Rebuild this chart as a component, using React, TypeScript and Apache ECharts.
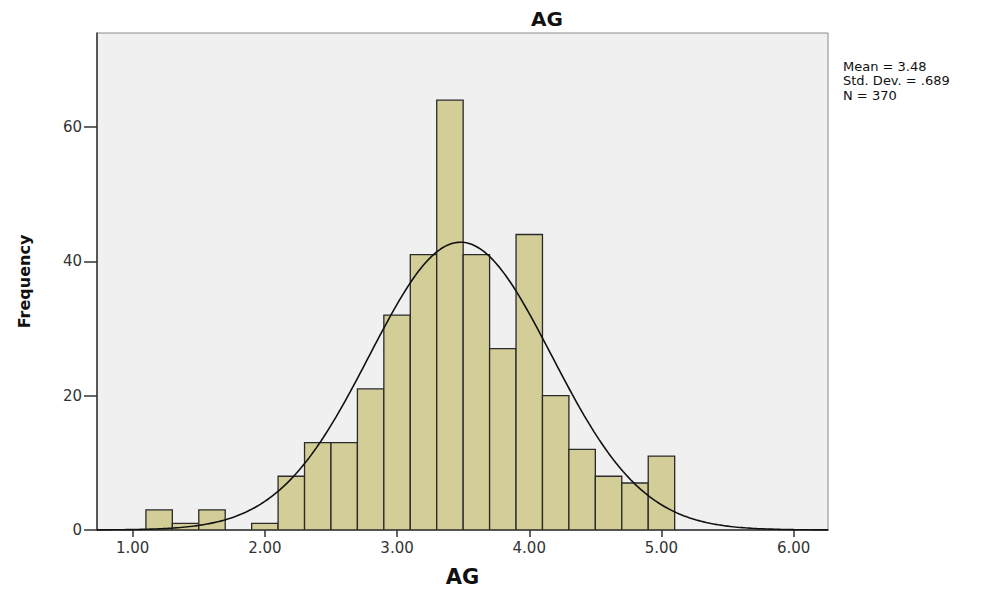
import React, { useEffect, useRef } from "react";
import * as echarts from "echarts";

const binCenters = [1.2, 1.4, 1.6, 1.8, 2.0, 2.2, 2.4, 2.6, 2.8, 3.0, 3.2, 3.4, 3.6, 3.8, 4.0, 4.2, 4.4, 4.6, 4.8, 5.0];
const counts = [3, 1, 3, 0, 1, 8, 13, 13, 21, 32, 41, 64, 41, 27, 44, 20, 12, 8, 7, 11];
const binWidth = 0.2;
const xTicks = [1, 2, 3, 4, 5, 6];
const yTicks = [0, 20, 40, 60];
const MEAN = 3.48;
const SD = 0.689;
const N = 370;
const statLines = ["Mean = 3.48", "Std. Dev. = .689", "N = 370"];

const X_MIN = 0.73;
const X_MAX = 6.26;

export default function App() {
  const ref = useRef<HTMLDivElement>(null);
  useEffect(() => {
    if (!ref.current) return;
    const chart = echarts.init(ref.current, null, { renderer: "svg" });
    const barData = binCenters.map((c, i) => [c - binWidth / 2, c + binWidth / 2, counts[i]]);
    // fitted normal curve from the reported statistics
    const curve: number[][] = [];
    const steps = 300;
    for (let i = 0; i <= steps; i++) {
      const x = X_MIN + ((X_MAX - X_MIN) * i) / steps;
      const z = (x - MEAN) / SD;
      const y = (N * binWidth) / (SD * Math.sqrt(2 * Math.PI)) * Math.exp(-0.5 * z * z);
      curve.push([x, y]);
    }
    const font = "'DejaVu Sans', 'Liberation Sans', Arial, sans-serif";
    chart.setOption({
      animation: false,
      backgroundColor: "#ffffff",
      grid: {
        left: 79,
        right: 150,
        top: 25,
        bottom: 51,
        show: true,
        backgroundColor: "#f0f0f0",
        borderColor: "#8a8a8a",
        borderWidth: 1,
      },
      xAxis: {
        type: "value",
        min: X_MIN,
        max: X_MAX,
        name: "AG",
        nameLocation: "middle",
        nameGap: 36,
        nameTextStyle: { fontFamily: font, fontWeight: "bold", fontSize: 21, color: "#111" },
        axisLine: { show: true, onZero: false, lineStyle: { color: "#333", width: 1.5 } },
        axisTick: { show: true, length: 7, customValues: xTicks, lineStyle: { color: "#333", width: 1.5 } },
        axisLabel: {
          customValues: xTicks,
          formatter: (v: number) => v.toFixed(2),
          fontFamily: font,
          fontSize: 15,
          color: "#333",
          margin: 10,
        },
        splitLine: { show: false },
      },
      yAxis: {
        type: "value",
        min: 0,
        max: 74,
        name: "Frequency",
        nameLocation: "middle",
        nameRotate: 90,
        nameGap: 65,
        nameTextStyle: {
          fontFamily: font,
          fontWeight: "bold",
          fontSize: 16,
          color: "#111",
        },
        axisLine: { show: true, lineStyle: { color: "#333", width: 1.5 } },
        axisTick: { show: true, length: 13, customValues: yTicks, lineStyle: { color: "#333", width: 1.5 } },
        axisLabel: {
          customValues: yTicks,
          fontFamily: font,
          fontSize: 15,
          color: "#333",
          margin: 15,
        },
        splitLine: { show: false },
      },
      graphic: [
        {
          type: "text",
          x: 539,
          y: 1,
          style: {
            text: "AG",
            fontFamily: font,
            fontWeight: "bold",
            fontSize: 20,
            fill: "#111",
            textAlign: "center",
            textVerticalAlign: "top",
          },
        },
        ...statLines.map((t, i) => ({
          type: "text",
          x: 835,
          y: 58 + i * 14.5,
          style: { text: t, fontFamily: font, fontSize: 13, fill: "#111", textAlign: "left", textVerticalAlign: "middle" },
        })),
      ],
      series: [
        {
          type: "custom",
          data: barData,
          clip: true,
          renderItem: (params: any, api: any) => {
            const x0 = api.value(0);
            const x1 = api.value(1);
            const v = api.value(2);
            if (!v) return null;
            const p0 = api.coord([x0, v]);
            const p1 = api.coord([x1, 0]);
            return {
              type: "rect",
              shape: { x: p0[0], y: p0[1], width: p1[0] - p0[0], height: p1[1] - p0[1] },
              style: { fill: "#d3ce97", stroke: "#2a2a2a", lineWidth: 1.3 },
            };
          },
          encode: { x: [0, 1], y: 2 },
          z: 2,
        },
        {
          type: "line",
          data: curve,
          showSymbol: false,
          smooth: false,
          lineStyle: { color: "#111", width: 1.6 },
          z: 3,
        },
      ],
    });
    return () => chart.dispose();
  }, []);
  return <div ref={ref} style={{ width: 970, height: 584 }} />;
}
